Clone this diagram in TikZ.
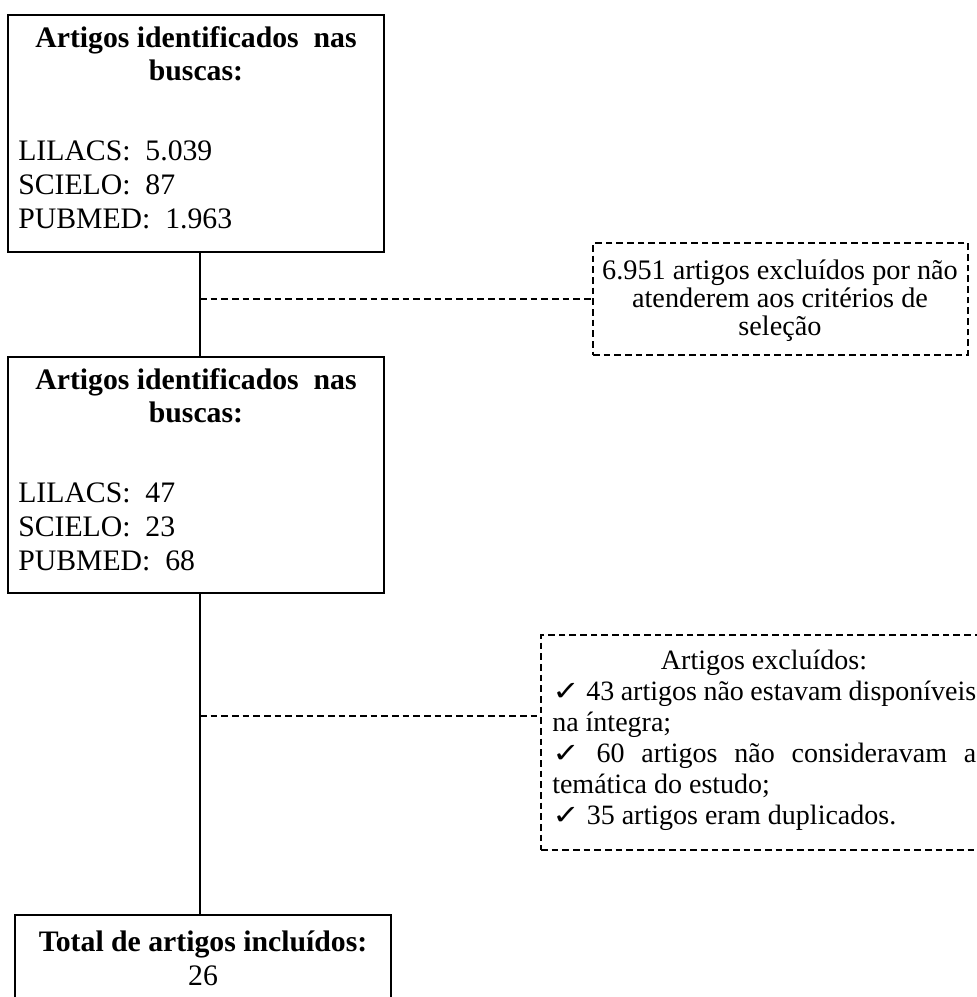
\documentclass[tikz,border=0pt]{standalone}
\usepackage{fontspec}
\usepackage{graphicx}
\setmainfont{Liberation Serif}
\newfontfamily\symfont{DejaVu Sans}
\usetikzlibrary{fit}
\newcommand{\chk}{\scalebox{1.45}[1.2]{\symfont\fontsize{17}{20}\selectfont ✓}}
\begin{document}
\begin{tikzpicture}[x=0.75pt,y=-0.75pt,
  solidbox/.style={draw, line width=1pt, inner sep=0pt},
  thickbox/.style={draw, line width=2.2pt, inner sep=0pt},
  dashbox/.style={draw, line width=0.8pt, dash pattern=on 5pt off 3pt, inner sep=0pt},
  link/.style={line width=1pt},
  dlink/.style={line width=0.8pt, dash pattern=on 5pt off 3pt},
  bigtext/.style={font=\fontsize{22.3}{26}\selectfont, inner sep=0pt},
  midtext/.style={font=\fontsize{21.2}{24}\selectfont, inner sep=0pt},
  smalltext/.style={font=\fontsize{21}{24}\selectfont, inner sep=0pt},
]
\useasboundingbox (0,0) rectangle (977,997);
\fill[white] (0,0) rectangle (977,997);
\clip (0,0) rectangle (977,997);

% boxes
\node[solidbox, fit={(8,15) (384,252)}] (b1) {};
\node[solidbox, fit={(8,357) (384,593)}] (b2) {};
\node[thickbox, fit={(15,915) (391,1015)}] (b3) {};
\node[dashbox, fit={(593,243) (968,355)}] (d1) {};
\node[dashbox, fit={(541,635) (995,850)}] (d2) {};

% box 1 text
\node[bigtext, anchor=base] (t1a) at (196,47) {\bfseries Artigos identificados\ \ nas};
\node[bigtext, anchor=base] (t1b) at (196,80) {\bfseries buscas:};
\node[bigtext, anchor=base west] (t1c) at (18,160) {LILACS:\ \ 5.039};
\node[bigtext, anchor=base west] (t1d) at (18,194) {SCIELO:\ \ 87};
\node[bigtext, anchor=base west] (t1e) at (18,228) {PUBMED:\ \ 1.963};

% box 2 text
\node[bigtext, anchor=base] (t2a) at (196,389) {\bfseries Artigos identificados\ \ nas};
\node[bigtext, anchor=base] (t2b) at (196,422) {\bfseries buscas:};
\node[bigtext, anchor=base west] (t2c) at (18,502) {LILACS:\ \ 47};
\node[bigtext, anchor=base west] (t2d) at (18,536) {SCIELO:\ \ 23};
\node[bigtext, anchor=base west] (t2e) at (18,570) {PUBMED:\ \ 68};

% box 3 text
\node[bigtext, anchor=base] (t3a) at (203,951) {\bfseries Total de artigos incluídos:};
\node[bigtext, anchor=base] (t3b) at (203,985) {26};

% dashed box 1 text
\node[midtext, anchor=base] (u1a) at (780,279) {6.951 artigos excluídos por não};
\node[midtext, anchor=base] (u1b) at (780,307) {atenderem aos critérios de};
\node[midtext, anchor=base] (u1c) at (780,335) {seleção};

% dashed box 2 text
\node[smalltext, anchor=base] (u2a) at (764,669) {Artigos excluídos:};
\node[smalltext, anchor=base west] (u2b) at (552,700) {\makebox[318pt][s]{\chk\ 43 artigos não estavam disponíveis}};
\node[smalltext, anchor=base west] (u2c) at (552,731) {na íntegra;};
\node[smalltext, anchor=base west] (u2d) at (552,762) {\makebox[318pt][s]{\chk\ 60 artigos não consideravam a}};
\node[smalltext, anchor=base west] (u2e) at (552,793) {temática do estudo;};
\node[smalltext, anchor=base west] (u2f) at (552,824) {\chk\ 35 artigos eram duplicados.};

% connectors
\coordinate (j1) at (200,299);
\coordinate (j2) at (200,716);
\draw[link] ([xshift=3pt]b1.south) -- ([xshift=3pt]b2.north);
\draw[link] ([xshift=3pt]b2.south) -- ([xshift=3pt]b2.south |- b3.north);
\draw[dlink] (j1) -- (d1.west);
\draw[dlink] (j2) -- (j2 -| d2.west);
\end{tikzpicture}
\end{document}
